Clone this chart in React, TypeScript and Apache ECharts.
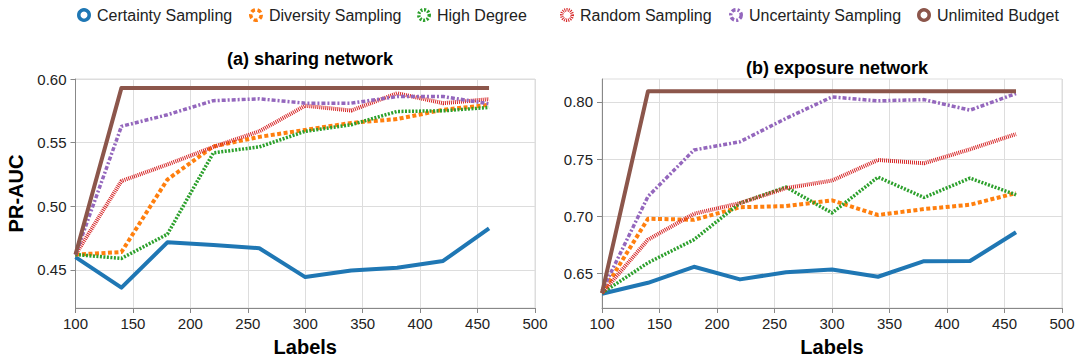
import React, { useEffect, useRef } from "react";
import * as echarts from "echarts";

const labels = [100, 140, 180, 220, 260, 300, 340, 380, 420, 460];
const seriesNames = [
  "Certainty Sampling",
  "Diversity Sampling",
  "High Degree",
  "Random Sampling",
  "Uncertainty Sampling",
  "Unlimited Budget",
];

// (a) sharing network
const sharingCertainty = [0.46, 0.436, 0.4716, 0.4695, 0.467, 0.4443, 0.4495, 0.4516, 0.457, 0.4826];
const sharingDiversity = [0.462, 0.464, 0.521, 0.547, 0.5545, 0.56, 0.5655, 0.5685, 0.5758, 0.5797];
const sharingHighDegree = [0.462, 0.459, 0.478, 0.542, 0.5466, 0.5589, 0.564, 0.5745, 0.575, 0.5776];
const sharingRandom = [0.462, 0.5198, 0.5328, 0.5466, 0.5589, 0.579, 0.5752, 0.5888, 0.581, 0.5841];
const sharingUncertainty = [0.462, 0.5628, 0.5719, 0.583, 0.5844, 0.581, 0.581, 0.5862, 0.5862, 0.5805];
const sharingUnlimited = [0.462, 0.593, 0.593, 0.593, 0.593, 0.593, 0.593, 0.593, 0.593, 0.593];

// (b) exposure network
const exposureCertainty = [0.6325, 0.642, 0.656, 0.645, 0.6513, 0.6537, 0.6473, 0.6609, 0.661, 0.6861];
const exposureDiversity = [0.633, 0.698, 0.697, 0.708, 0.709, 0.714, 0.7012, 0.7064, 0.7102, 0.7204];
const exposureHighDegree = [0.633, 0.6595, 0.6797, 0.7116, 0.7256, 0.703, 0.7343, 0.7165, 0.7334, 0.7189];
const exposureRandom = [0.633, 0.6797, 0.7023, 0.7116, 0.7247, 0.7313, 0.7493, 0.7464, 0.7586, 0.7719];
const exposureUncertainty = [0.635, 0.7174, 0.758, 0.7652, 0.7856, 0.8043, 0.8009, 0.802, 0.7928, 0.8073];
const exposureUnlimited = [0.633, 0.8093, 0.8093, 0.8093, 0.8093, 0.8093, 0.8093, 0.8093, 0.8093, 0.8093];

const sharingTicks = [0.45, 0.5, 0.55, 0.6];
const exposureTicks = [0.65, 0.7, 0.75, 0.8];

const FONT = "'Liberation Sans', Arial, Helvetica, sans-serif";

const colors = ["#1f77b4", "#ff7f0e", "#2ca02c", "#d62728", "#9467bd", "#8c564b"];
const dashes: any[] = ["solid", [4, 2.5], [2, 1.5], [1, 1], [4, 2, 2, 2], "solid"];
const widths = [4, 4, 3.5, 4, 3.5, 4];
const legendLefts = [72, 244, 412, 555, 724, 912];

export default function App() {
  const ref = useRef<HTMLDivElement>(null);

  useEffect(() => {
    if (!ref.current) return;
    const chart = echarts.init(ref.current, undefined, { renderer: "svg" });

    const sharing = [sharingCertainty, sharingDiversity, sharingHighDegree, sharingRandom, sharingUncertainty, sharingUnlimited];
    const exposure = [exposureCertainty, exposureDiversity, exposureHighDegree, exposureRandom, exposureUncertainty, exposureUnlimited];

    const mkSeries = (data: number[][], idx: number) =>
      data.map((vals, i) => ({
        name: seriesNames[i],
        type: "line",
        xAxisIndex: idx,
        yAxisIndex: idx,
        symbol: "none",
        data: vals.map((v, j) => [labels[j], v]),
        lineStyle: { color: colors[i], width: widths[i], type: dashes[i], cap: "butt", join: "round" },
        itemStyle: { color: colors[i] },
        z: 2 + i,
      }));

    const axisLineStyle = { color: "#888", width: 1 };
    const gridLine = { show: true, lineStyle: { color: "#ddd", width: 1 } };

    const mkX = (gridIndex: number) => ({
      type: "value",
      gridIndex,
      min: 100,
      max: 500,
      interval: 50,
      name: "Labels",
      nameLocation: "middle",
      nameGap: 29,
      nameTextStyle: { fontFamily: FONT, fontSize: 20, fontWeight: "bold", color: "#000" },
      axisLine: { show: true, lineStyle: axisLineStyle },
      axisTick: { show: true, length: 5, lineStyle: axisLineStyle },
      axisLabel: { fontFamily: FONT, fontSize: 15, color: "#222", margin: 8 },
      splitLine: gridLine,
    });

    const mkY = (gridIndex: number, min: number, max: number, ticks: number[], name: string) => ({
      type: "value",
      gridIndex,
      min,
      max,
      name,
      nameLocation: "middle",
      nameGap: 50,
      nameTextStyle: { fontFamily: FONT, fontSize: 20, fontWeight: "bold", color: "#000" },
      axisLine: { show: true, lineStyle: axisLineStyle },
      axisTick: { show: true, length: 5, lineStyle: axisLineStyle, customValues: ticks },
      axisLabel: {
        fontFamily: FONT,
        fontSize: 15,
        color: "#222",
        margin: 9,
        customValues: ticks,
        formatter: (v: number) => v.toFixed(2),
      },
      splitLine: gridLine,
    });

    chart.setOption({
      animation: false,
      backgroundColor: "#fff",
      textStyle: { fontFamily: FONT },
      title: [
        {
          text: "(a) sharing network",
          left: 305,
          top: 45,
          textAlign: "center",
          textStyle: { fontFamily: FONT, fontSize: 18, fontWeight: "bold", color: "#000" },
        },
        {
          text: "(b) exposure network",
          left: 832,
          top: 54,
          textAlign: "center",
          textStyle: { fontFamily: FONT, fontSize: 18, fontWeight: "bold", color: "#000" },
        },
      ],
      legend: seriesNames.map((n, i) => ({
        top: 2,
        left: legendLefts[i],
        icon: "circle",
        itemWidth: 16,
        itemHeight: 10.5,
        textStyle: { fontFamily: FONT, fontSize: 16, color: "#222" },
        data: [
          {
            name: n,
            itemStyle: {
              color: "#fff",
              borderColor: colors[i],
              borderWidth: 3.5,
              borderType: dashes[i],
            },
          },
        ],
      })),
      grid: [
        { left: 75.5, right: 1078 - 535, top: 79, bottom: 362 - 308, show: true, borderColor: "#ddd", borderWidth: 1, backgroundColor: "transparent" },
        { left: 602, right: 1078 - 1062, top: 79, bottom: 362 - 308, show: true, borderColor: "#ddd", borderWidth: 1, backgroundColor: "transparent" },
      ],
      xAxis: [mkX(0), mkX(1)],
      yAxis: [
        mkY(0, 0.42, 0.6, sharingTicks, "PR-AUC"),
        { ...mkY(1, 0.62, 0.82, exposureTicks, ""), name: "" },
      ],
      series: [...mkSeries(sharing, 0), ...mkSeries(exposure, 1)],
    });

    return () => chart.dispose();
  }, []);

  return <div ref={ref} style={{ width: 1078, height: 362, position: "absolute", left: 0, top: 0 }} />;
}
